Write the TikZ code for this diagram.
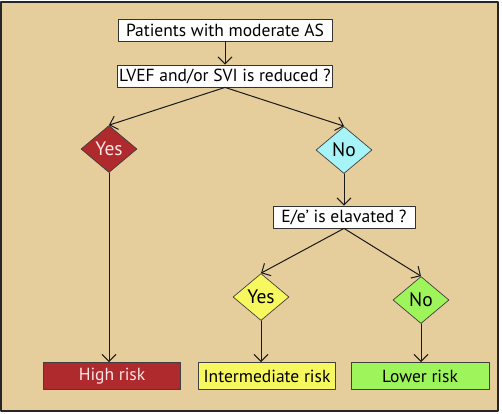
\documentclass[tikz,border=0pt]{standalone}
\usepackage{fontspec}
\setmainfont{PT Sans}
\usetikzlibrary{shapes.geometric,arrows.meta}
\definecolor{tan}{HTML}{E6CD9C}
\definecolor{riskred}{HTML}{AE2A2C}
\definecolor{nocyan}{HTML}{A6F4F7}
\definecolor{yesyellow}{HTML}{F7F75F}
\definecolor{nogreen}{HTML}{9DF55B}
\tikzset{
  question/.style={draw=black!80, fill=white, line width=0.8pt, inner sep=1pt,
    minimum height=22pt, font=\fontsize{17.5}{17.5}\selectfont},
  choice/.style={diamond, draw=black!75, line width=0.7pt, inner sep=0pt,
    minimum width=56pt, minimum height=47pt, font=\fontsize{19.5}{19.5}\selectfont},
  result/.style={draw=black!75, line width=0.8pt, minimum width=137pt,
    minimum height=27pt, inner sep=0pt, font=\fontsize{17.5}{17.5}\selectfont},
  link/.style={-{Straight Barb[length=7pt,width=14pt]}, line width=1pt, black!90}
}
\begin{document}
\begin{tikzpicture}[x=1pt, y=-1pt, line join=round, line cap=round]
  % frame
  \useasboundingbox (0,0) rectangle (502,413);
  \fill[white] (0,0) rectangle (502,413);
  \draw[fill=tan, line width=1.2pt, draw=black!85] (1,2) rectangle (498,411);
  % questions
  \node[question, minimum width=214pt] (pat) at (225,30) {Patients with moderate AS};
  \node[question, minimum width=215pt] (lvef) at (225,76) {LVEF and/or SVI is reduced ?};
  \node[question, minimum width=142pt] (ee) at (344,217) {E/e’ is elavated ?};
  % choices
  \node[choice, fill=riskred, text=white!90!red] (yes1) at (109,149) {Yes};
  \node[choice, fill=nocyan] (no1) at (344,150) {No};
  \node[choice, fill=yesyellow] (yes2) at (261,297) {Yes};
  \node[choice, fill=nogreen] (no2) at (421,300) {No};
  % results
  \node[result, fill=riskred, text=white!90!red] (high) at (112,376) {High risk};
  \node[result, fill=yesyellow] (inter) at (267,376) {Intermediate risk};
  \node[result, fill=nogreen, minimum width=138pt] (low) at (420,376) {Lower risk};
  % links
  \draw[link] (pat) -- (lvef);
  \draw[link] (lvef.south) -- (yes1.north);
  \draw[link] (lvef.south) -- (no1.north);
  \draw[link] (no1) -- (ee);
  \draw[link] (ee.south) -- (yes2.north);
  \draw[link] (ee.south) -- (no2.north);
  \draw[link] (yes1.south) -- (yes1.south |- high.north);
  \draw[link] (yes2.south) -- (yes2.south |- inter.north);
  \draw[link] (no2.south) -- (no2.south |- low.north);
\end{tikzpicture}
\end{document}
